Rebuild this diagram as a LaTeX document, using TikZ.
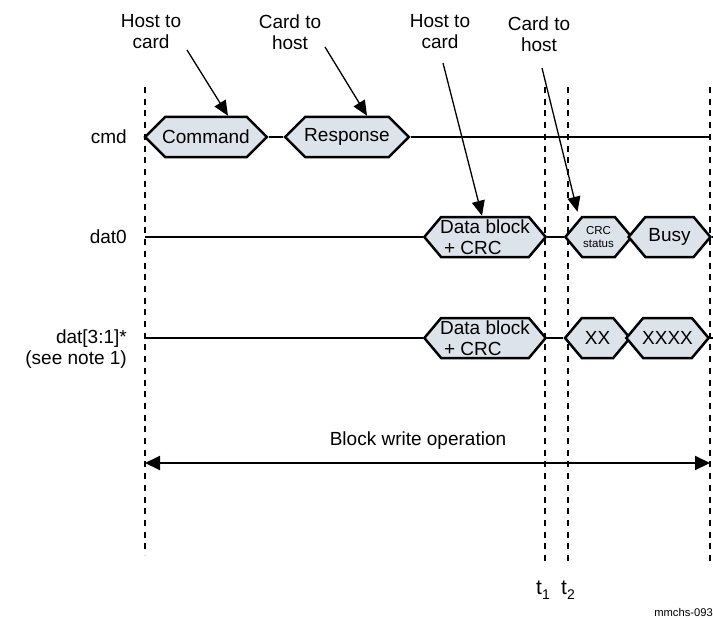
\documentclass[tikz,border=0pt]{standalone}
\usepackage{fontspec}
\setmainfont{Liberation Sans}
\usetikzlibrary{shapes.symbols,arrows.meta,calc}
\definecolor{boxfill}{HTML}{DCE3EA}
\newcommand{\tsub}[1]{t\raisebox{-5pt}{\fontsize{14}{14}\selectfont #1}}

\begin{document}
\begin{tikzpicture}[x=1pt,y=-1pt,
  every node/.style={font=\fontsize{19}{21}\selectfont,inner sep=0pt},
  hexbox/.style={shape=signal,signal to=west and east,signal pointer angle=100,
    draw=black,line width=2.5pt,fill=boxfill,minimum height=40pt,inner xsep=-1pt},
  sig/.style={line width=2.5pt},
  guide/.style={line width=1.2pt,dash pattern=on 6pt off 5.7pt},
  pointer/.style={line width=1.3pt,-{Triangle[length=15pt,width=13pt]}},
  span/.style={line width=2pt,{Triangle[length=15pt,width=14pt]}-{Triangle[length=15pt,width=14pt]}}]
  \useasboundingbox (0,0) rectangle (713,618);
  % time guides
  \foreach \x/\yb in {145/555,545/566,568/566,710/566} \draw[guide] (\x,87)--(\x,\yb);
  % signal names
  \node[anchor=east] (cmdname) at (127,137) {cmd};
  \node[anchor=east] (d0name)  at (127,237) {dat0};
  \node[anchor=east,align=right] (d3name) at (127,349) {dat[3:1]*\\(see note 1)};
  % boxes
  \node[hexbox,signal pointer angle=90,inner xsep=-3pt] (cmdbox) at (206,137) {Command};
  \node[hexbox,signal pointer angle=90,inner xsep=-1pt] (respbox) at (347,137) {Response};
  \node[hexbox,align=left] (d0blk) at (485,237) {Data block\\\hspace*{4pt}+ CRC};
  \node[hexbox,align=center,font=\fontsize{11.5}{13}\selectfont,inner xsep=1pt] (crcbox) at (598.5,237) {CRC\\status};
  \node[hexbox,inner xsep=3pt] (busybox) at (669.5,237) {Busy};
  \node[hexbox,align=left] (d3blk) at (485,338) {Data block\\\hspace*{4pt}+ CRC};
  \node[hexbox,inner xsep=3pt] (xxbox) at (597.5,338) {XX};
  \node[hexbox,inner xsep=-1pt] (xxxxbox) at (667.5,338) {XXXX};
  % lines
  \draw[sig] (cmdbox.east)--(respbox.west);
  \draw[sig] (respbox.east)--(710,137);
  \draw[sig] (145,237)--(d0blk.west);
  \draw[sig] (d0blk.east)--(crcbox.west);
  \draw[sig] (busybox.east)--++(3,0);
  \draw[sig] (145,338)--(d3blk.west);
  \draw[sig] (d3blk.east)--(xxbox.west);
  \draw[sig] (xxxxbox.east)--++(6,0);
  % direction notes
  \node[align=center] (hc1) at (151,32) {Host to\\card};
  \node[align=center] (ch1) at (290,32) {Card to\\host};
  \node[align=center] (hc2) at (440,32) {Host to\\card};
  \node[align=center] (ch2) at (539,34) {Card to\\host};
  \coordinate (s1) at ($(hc1)+(36,18)$);
  \coordinate (s2) at ($(ch1)+(35,15)$);
  \coordinate (s3) at ($(hc2)+(3,31)$);
  \coordinate (s4) at ($(ch2)+(3,34)$);
  \draw[pointer] (s1)--($(cmdbox.north)+(22,0)$);
  \draw[pointer] (s2)--($(respbox.north)+(20,0)$);
  \draw[pointer] (s3)--($(d0blk.north)+(-3,0)$);
  \draw[pointer] (s4)--($(crcbox.north)+(-21,-4)$);
  % operation span
  \coordinate (bwL) at (145,463);
  \coordinate (bwR) at (710,463);
  \draw[span] (bwL)--(bwR);
  \node (bwtext) at (418,441) {Block write operation};
  \node[anchor=base west,font=\fontsize{21}{21}\selectfont] (t1) at (536,594) {\tsub{1}};
  \node[anchor=base west,font=\fontsize{21}{21}\selectfont] (t2) at (561,594) {\tsub{2}};
  \node[anchor=east,font=\fontsize{11.2}{13}\selectfont] (fig) at (713,612) {mmchs-093};
\end{tikzpicture}
\end{document}
